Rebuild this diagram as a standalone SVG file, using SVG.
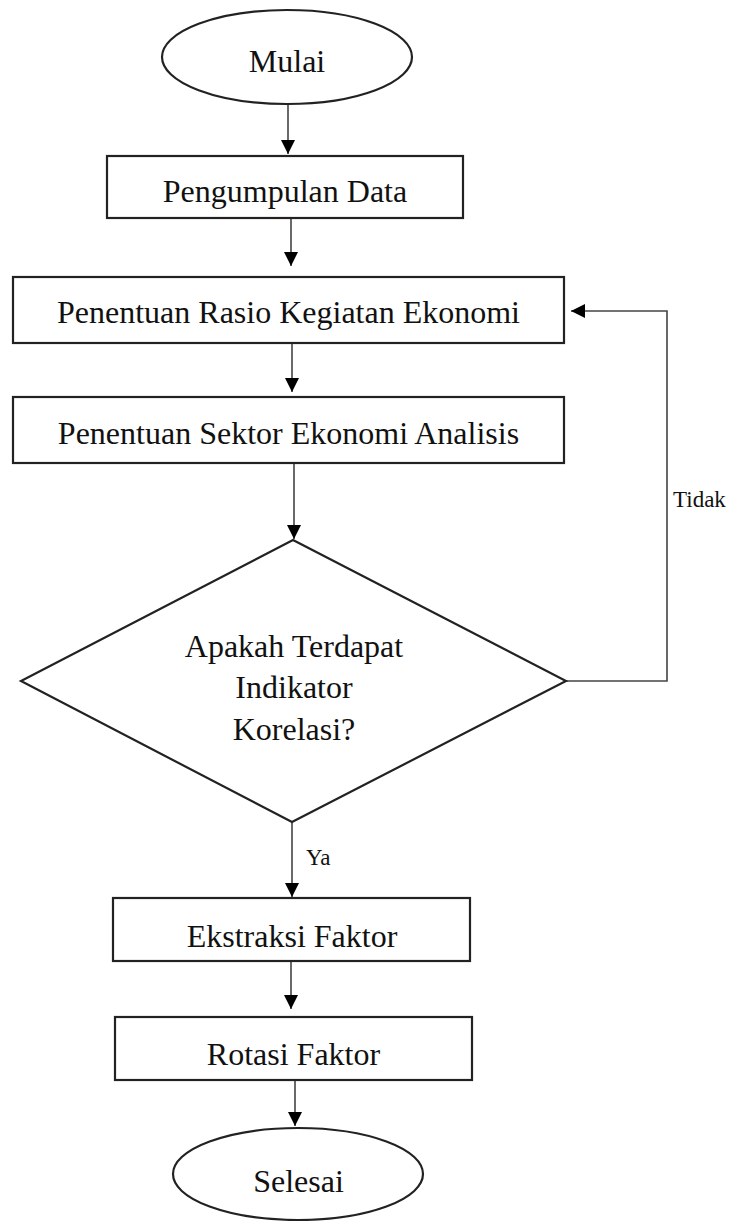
<svg xmlns="http://www.w3.org/2000/svg" width="730" height="1221" viewBox="0 0 730 1221">
<style>
.shape{fill:#ffffff;stroke:#222222;stroke-width:2.2}
.lbl{font-family:"Liberation Serif","Times New Roman",serif;font-size:32px;fill:#111111;text-anchor:middle}
.small{font-family:"Liberation Serif","Times New Roman",serif;font-size:23px;fill:#111111}
.conn{fill:none;stroke:#444444;stroke-width:1.6}
</style>
<defs>
<marker id="arrow" markerUnits="userSpaceOnUse" markerWidth="14" markerHeight="14" refX="14" refY="7" orient="auto">
<path d="M0,0 L14,7 L0,14 z" fill="#000000"/>
</marker>
</defs>
<rect width="730" height="1221" fill="#ffffff"/>
<g id="connectors">
<line class="conn" x1="288" y1="105" x2="288" y2="154" marker-end="url(#arrow)"/>
<line class="conn" x1="291" y1="218" x2="291" y2="266" marker-end="url(#arrow)"/>
<line class="conn" x1="292" y1="343" x2="292" y2="392" marker-end="url(#arrow)"/>
<line class="conn" x1="294" y1="463" x2="294" y2="539" marker-end="url(#arrow)"/>
<polyline class="conn" points="566,681 667,681 667,311 571,311" marker-end="url(#arrow)"/>
<line class="conn" x1="292" y1="822" x2="292" y2="897" marker-end="url(#arrow)"/>
<line class="conn" x1="291" y1="961" x2="291" y2="1009" marker-end="url(#arrow)"/>
<line class="conn" x1="295" y1="1080" x2="295" y2="1126" marker-end="url(#arrow)"/>
<text class="small" x="673" y="507">Tidak</text>
<text class="small" x="306" y="865">Ya</text>
</g>
<g id="mulai">
<ellipse class="shape" cx="287" cy="57" rx="125" ry="47"/>
<text class="lbl" x="287" y="72">Mulai</text>
</g>
<g id="pengumpulan-data">
<rect class="shape" x="107" y="156" width="356" height="62"/>
<text class="lbl" x="285" y="202">Pengumpulan Data</text>
</g>
<g id="penentuan-rasio">
<rect class="shape" x="13" y="277" width="551" height="66"/>
<text class="lbl" x="288.5" y="323">Penentuan Rasio Kegiatan Ekonomi</text>
</g>
<g id="penentuan-sektor">
<rect class="shape" x="13" y="397" width="551" height="66"/>
<text class="lbl" x="288.5" y="444">Penentuan Sektor Ekonomi Analisis</text>
</g>
<g id="keputusan">
<polygon class="shape" points="293,540 566,681 292,822 21,681"/>
<text class="lbl" x="294" y="657">Apakah Terdapat</text>
<text class="lbl" x="294" y="698">Indikator</text>
<text class="lbl" x="294" y="740">Korelasi?</text>
</g>
<g id="ekstraksi-faktor">
<rect class="shape" x="113" y="898" width="357" height="63"/>
<text class="lbl" x="292" y="947">Ekstraksi Faktor</text>
</g>
<g id="rotasi-faktor">
<rect class="shape" x="115" y="1017" width="357" height="63"/>
<text class="lbl" x="293.5" y="1065">Rotasi Faktor</text>
</g>
<g id="selesai">
<ellipse class="shape" cx="298" cy="1174" rx="125" ry="46"/>
<text class="lbl" x="298.5" y="1192">Selesai</text>
</g>
</svg>
